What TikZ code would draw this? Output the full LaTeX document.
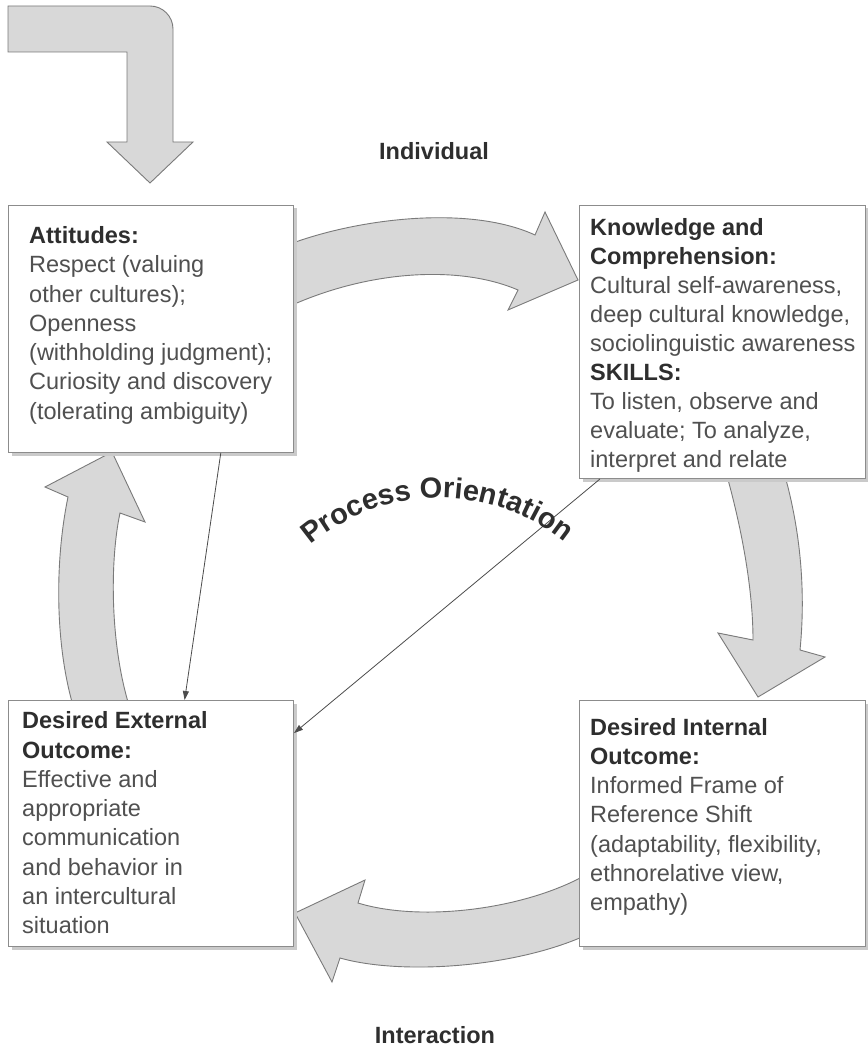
\documentclass[tikz,border=0pt]{standalone}
\usepackage{fontspec}
\setmainfont{Liberation Sans}
\usetikzlibrary{arrows.meta,calc,shadows,decorations.text}
\definecolor{arrowfill}{HTML}{D8D8D8}
\definecolor{arrowline}{HTML}{7A7A7A}
\definecolor{boxline}{HTML}{8C8C8C}
\definecolor{headtext}{HTML}{2E2E2E}
\definecolor{bodytext}{HTML}{505050}
\definecolor{shadowgray}{HTML}{CACACA}
\begin{document}
\begin{tikzpicture}[x=1pt,y=-1pt,
  bigarrow/.style={fill=arrowfill,draw=arrowline,line width=0.9pt,line join=miter},
  boxstyle/.style={draw=boxline,line width=1pt,fill=white,rectangle,inner sep=0pt,anchor=north west,
    general shadow={fill=shadowgray,shadow xshift=3pt,shadow yshift=-3pt}},
  boxtext/.style={anchor=north west,inner sep=0pt,align=left,text=bodytext},
  linkarrow/.style={draw=black!70,line width=0.8pt,-{Triangle[length=9pt,width=6pt]}},
  sidelabel/.style={font=\fontsize{23.5}{27}\selectfont\bfseries,text=headtext,inner sep=0pt,anchor=base}]

\useasboundingbox[fill=white] (0,0) rectangle (867,1048);

% L-shaped entry arrow
\draw[bigarrow] (8,6) -- (150,6) arc[start angle=-90,end angle=0,radius=23] -- (173,142) -- (193,142)
  -- (150,183) -- (107,142) -- (127,142) -- (127,52) -- (8,52) -- cycle;

% top curved arrow (Attitudes -> Knowledge)
\draw[bigarrow] (290,244) .. controls (360,218) and (470,205) .. (535,235) -- (545,212) -- (578,280)
  -- (508,310) -- (518,290) .. controls (460,265) and (370,270) .. (290,306) -- cycle;

% right curved arrow (Knowledge -> Internal)
\draw[bigarrow] (727,476) .. controls (742,530) and (753,590) .. (753,640) -- (718,633) -- (758,697)
  -- (825,657) -- (800,650) .. controls (806,590) and (800,530) .. (785,476) -- cycle;

% bottom curved arrow (Internal -> External)
\draw[bigarrow] (582,877) .. controls (520,910) and (420,922) .. (358,903) -- (365,880) -- (295,913)
  -- (332,982) -- (340,958) .. controls (400,975) and (510,968) .. (582,937) -- cycle;

% left curved arrow (External -> Attitudes)
\draw[bigarrow] (128,702) .. controls (110,640) and (110,560) .. (120,513) -- (145,522) -- (112,452)
  -- (45,487) -- (68,497) .. controls (55,560) and (55,640) .. (72,702) -- cycle;

% boxes
\node[boxstyle,minimum width=285pt,minimum height=247pt] (att) at (8,205) {};
\node[boxstyle,minimum width=286pt,minimum height=273pt] (know) at (579,205) {};
\node[boxstyle,minimum width=285pt,minimum height=246pt] (ext) at (8,700) {};
\node[boxstyle,minimum width=286pt,minimum height=246pt] (int) at (579,700) {};

% box texts
\node[boxtext,font=\fontsize{23.5}{29.3}\selectfont] (attT) at (29,226.2)
  {\textcolor{headtext}{\textbf{Attitudes:}}\\Respect (valuing\\other cultures);\\Openness\\(withholding judgment);\\Curiosity and discovery\\(tolerating ambiguity)};
\node[boxtext,font=\fontsize{23.5}{29}\selectfont] (knowT) at (590,218.2)
  {\textcolor{headtext}{\textbf{Knowledge and}}\\\textcolor{headtext}{\textbf{Comprehension:}}\\Cultural self-awareness,\\deep cultural knowledge,\\sociolinguistic awareness\\\textcolor{headtext}{\textbf{SKILLS:}}\\To listen, observe and\\evaluate; To analyze,\\interpret and relate};
\node[boxtext,font=\fontsize{23.5}{29.3}\selectfont] (extT) at (22,711.5)
  {\textcolor{headtext}{\textbf{Desired External}}\\\textcolor{headtext}{\textbf{Outcome:}}\\Effective and\\appropriate\\communication\\and behavior in\\an intercultural\\situation};
\node[boxtext,font=\fontsize{23.5}{29.2}\selectfont] (intT) at (590,718)
  {\textcolor{headtext}{\textbf{Desired Internal}}\\\textcolor{headtext}{\textbf{Outcome:}}\\Informed Frame of\\Reference Shift\\(adaptability, flexibility,\\ethnorelative view,\\empathy)};

% thin connectors
\draw[linkarrow] ($(att.south west)!0.744!(att.south east)$) -- ($(ext.north west)!0.6175!(ext.north east)$);
\draw[linkarrow] ($(know.south west)!0.073!(know.south east)$) -- ($(ext.north east)!0.134!(ext.south east)$);

% labels
\node[sidelabel] (indiv) at (434,160) {Individual};
\node[sidelabel] (inter) at (435,1043) {Interaction};

% curved text
\path[decorate,decoration={text along path,text align=center,
  text={|\fontsize{29}{29}\selectfont\bfseries\color{headtext}|Process Orientation}}]
  (439,697) ++(-131.3:199) arc[start angle=-131.3,end angle=-49.9,radius=199];
\end{tikzpicture}
\end{document}
